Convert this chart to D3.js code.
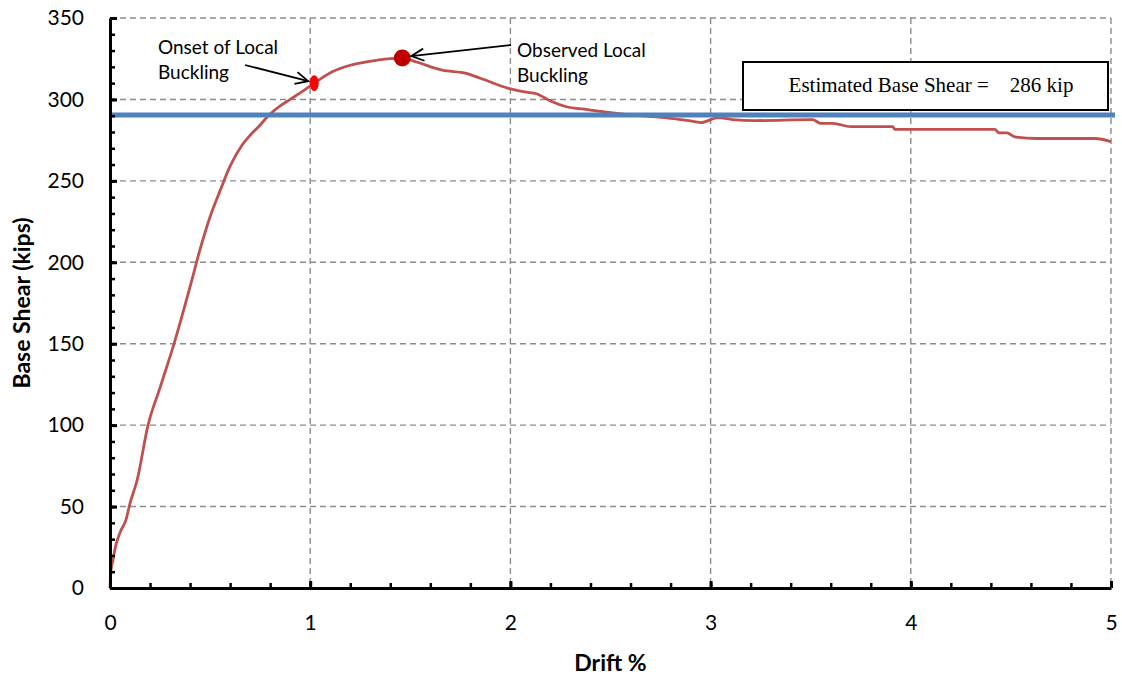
<!DOCTYPE html>
<html><head><meta charset="utf-8">
<script src="https://cdn.jsdelivr.net/npm/d3@7"></script>
<style>
body{margin:0;background:#fff;}
svg{display:block;}
</style></head>
<body>
<svg id="chart" width="1122" height="677"></svg>
<script>
// ---- data ----
const drift = [0, 0.005, 0.015, 0.025, 0.05, 0.08, 0.1, 0.135, 0.19, 0.25, 0.32, 0.4, 0.45, 0.5, 0.55, 0.6, 0.66, 0.7, 0.74, 0.8, 0.85, 0.9, 0.95, 1.02, 1.11, 1.2, 1.28, 1.4, 1.46, 1.53, 1.66, 1.78, 1.85, 1.99, 2.08, 2.13, 2.2, 2.28, 2.37, 2.46, 2.6, 2.8, 2.89, 2.95, 3.04, 3.11, 3.22, 3.51, 3.55, 3.61, 3.70, 3.91, 3.92, 4.42, 4.44, 4.48, 4.52, 4.63, 4.92, 5.0];
const shear = [0, 11, 17, 24, 34, 42, 52, 66, 100, 123, 150, 185, 208, 228, 244, 259, 272, 278, 283, 291, 296, 300, 304, 310, 317, 321, 323, 325, 325.4, 323, 318, 316, 313, 306.8, 304.5, 303.5, 299, 295.5, 294, 292.5, 290.5, 288.4, 287, 285.8, 288.8, 287.6, 287, 287.6, 285.3, 285.3, 283.3, 283.3, 281.6, 281.6, 279.5, 279.5, 277, 276, 276, 274];
const estimatedShear = 290.5;          // blue horizontal line
const estimatedLabel = "Estimated Base Shear =    286 kip";
const onset = {drift: 1.02, shear: 310, label: ["Onset of Local", "Buckling"]};
const observed = {drift: 1.46, shear: 325.4, label: ["Observed Local", "Buckling"]};
const xTicks = [0, 1, 2, 3, 4, 5];
const yTicks = [0, 50, 100, 150, 200, 250, 300, 350];
const xLabel = "Drift %";
const yLabel = "Base Shear (kips)";

// ---- layout ----
const L = 110, R = 1111, T = 18, B = 588;
const svg = d3.select("#chart");
const x = d3.scaleLinear().domain([0, 5]).range([L, R]);
const y = d3.scaleLinear().domain([0, 350]).range([B, T]);
const FONT = "Lato, 'Open Sans', sans-serif";

// gridlines
const grid = svg.append("g").attr("stroke", "#8c8c8c").attr("stroke-width", 1.4).attr("stroke-dasharray", "6,4");
grid.selectAll(".gy").data(yTicks.filter(d => d > 0)).join("line")
  .attr("x1", L).attr("x2", R).attr("y1", d => y(d)).attr("y2", d => y(d));
grid.selectAll(".gx").data(xTicks.filter(d => d > 0)).join("line")
  .attr("x1", d => x(d)).attr("x2", d => x(d)).attr("y1", T).attr("y2", B);

// curve
const line = d3.line().curve(d3.curveMonotoneX).x((d, i) => x(drift[i])).y((d, i) => y(shear[i]));
svg.append("path").datum(shear).attr("d", line)
  .attr("fill", "none").attr("stroke", "#C0504D").attr("stroke-width", 2.8).attr("stroke-linejoin", "round");

// estimated line
svg.append("line").attr("x1", L).attr("x2", R + 4).attr("y1", y(estimatedShear)).attr("y2", y(estimatedShear))
  .attr("stroke", "#4F81BD").attr("stroke-width", 5);

// axes
const xMinor = d3.range(0, 5.001, 0.2);
const yMinor = d3.range(0, 350.001, 10);
svg.append("g").attr("transform", `translate(0,${B})`)
  .call(d3.axisBottom(x).tickValues(xMinor).tickSizeInner(-5).tickSizeOuter(0).tickFormat(""))
  .call(g => g.select(".domain").remove())
  .call(g => g.selectAll("line").attr("stroke", "#000").attr("stroke-width", 2.5));
svg.append("g").attr("transform", `translate(${L},0)`)
  .call(d3.axisLeft(y).tickValues(yMinor).tickSizeInner(-5).tickSizeOuter(0).tickFormat(""))
  .call(g => g.select(".domain").remove())
  .call(g => g.selectAll("line").attr("stroke", "#000").attr("stroke-width", 2.5));

const xAxis = svg.append("g").attr("transform", `translate(0,${B})`)
  .call(d3.axisBottom(x).tickValues(xTicks).tickSizeInner(-7).tickSizeOuter(0).tickPadding(29).tickFormat(d3.format("d")));
const yAxis = svg.append("g").attr("transform", `translate(${L},0)`)
  .call(d3.axisLeft(y).tickValues(yTicks).tickSizeInner(-7).tickSizeOuter(0).tickPadding(26).tickFormat(d3.format("d")));
[xAxis, yAxis].forEach(a => {
  a.select(".domain").attr("stroke", "#000").attr("stroke-width", 3);
  a.selectAll(".tick line").attr("stroke", "#000").attr("stroke-width", 3);
  a.selectAll(".tick text").attr("font-family", FONT).attr("font-size", 21).attr("fill", "#000");
});
xAxis.selectAll(".tick text").attr("dy", "0.6em");

// axis titles
svg.append("text").attr("x", x(2.5)).attr("y", 671).attr("text-anchor", "middle")
  .attr("font-family", FONT).attr("font-weight", "bold").attr("font-size", 23).text(xLabel);
svg.append("text").attr("transform", `translate(30,${(T + B) / 2}) rotate(-90)`).attr("text-anchor", "middle")
  .attr("font-family", FONT).attr("font-weight", "bold").attr("font-size", 23).text(yLabel);

// markers
svg.append("ellipse").attr("cx", x(onset.drift)).attr("cy", y(onset.shear)).attr("rx", 4.5).attr("ry", 8)
  .attr("fill", "#FF0000");
svg.append("circle").attr("cx", x(observed.drift)).attr("cy", y(observed.shear)).attr("r", 8.5)
  .attr("fill", "#C00000");

// annotations
function arrow(x1, y1, x2, y2) {
  const g = svg.append("g").attr("stroke", "#000").attr("stroke-width", 1.8).attr("fill", "none");
  g.append("line").attr("x1", x1).attr("y1", y1).attr("x2", x2).attr("y2", y2);
  const a = Math.atan2(y2 - y1, x2 - x1), len = 14, spread = 0.45;
  const p1 = [x2 - len * Math.cos(a - spread), y2 - len * Math.sin(a - spread)];
  const p2 = [x2 - len * Math.cos(a + spread), y2 - len * Math.sin(a + spread)];
  g.append("path").attr("d", `M${p1}L${x2},${y2}L${p2}`);
}
arrow(245, 65, x(onset.drift) - 6, y(onset.shear) - 2);
arrow(511, 45, x(observed.drift) + 9, y(observed.shear) - 2);

function label(lines, lx, ly) {
  const t = svg.append("text").attr("font-family", FONT).attr("font-size", 19).attr("fill", "#000");
  lines.forEach((s, i) => t.append("tspan").attr("x", lx).attr("y", ly + i * 25).text(s));
}
label(onset.label, 158, 54);
label(observed.label, 517, 57);

// estimated box
svg.append("rect").attr("x", 743).attr("y", 62).attr("width", 365).attr("height", 48)
  .attr("fill", "#fff").attr("stroke", "#000").attr("stroke-width", 2);
svg.append("text").attr("x", 931).attr("y", 92).attr("text-anchor", "middle")
  .attr("font-family", "'Liberation Serif', 'Times New Roman', serif").attr("font-size", 21)
  .attr("xml:space", "preserve").style("white-space", "pre").text(estimatedLabel);
</script>
</body></html>
